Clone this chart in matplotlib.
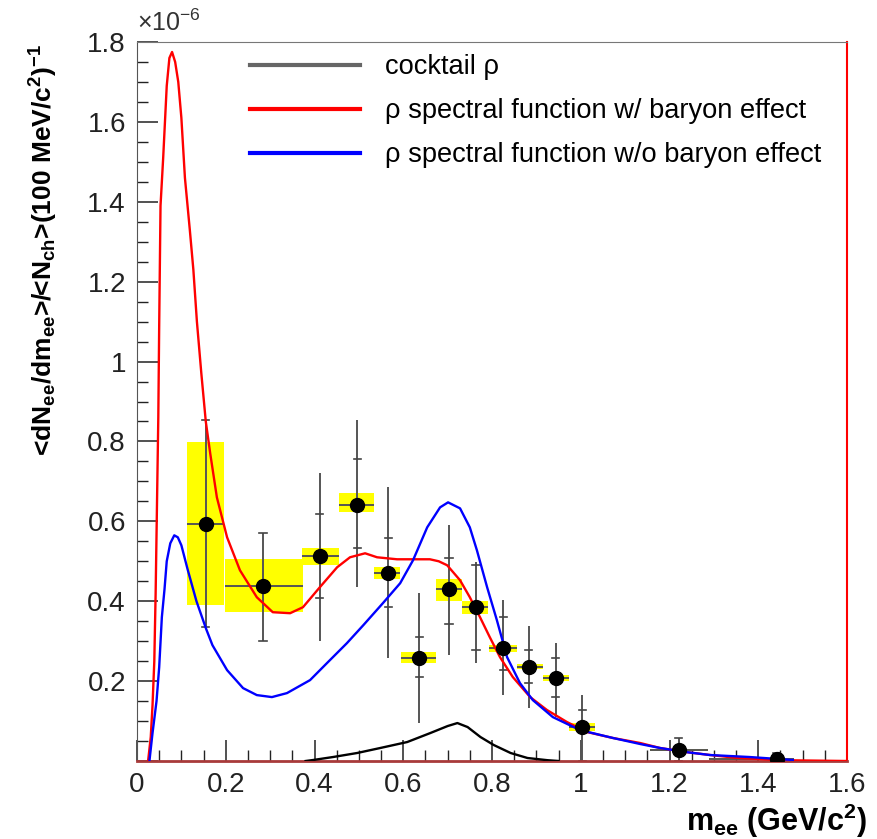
import matplotlib
matplotlib.use("Agg")
import matplotlib.pyplot as plt
from matplotlib.ticker import MultipleLocator, FuncFormatter

plt.rcParams["font.family"] = ["Liberation Sans", "DejaVu Sans"]
plt.rcParams["mathtext.default"] = "regular"

# curves (units of 1e-6)
cocktail_x = [0.38, 0.397, 0.442, 0.496, 0.548, 0.609, 0.661, 0.700, 0.722, 0.745,
              0.774, 0.804, 0.842, 0.880, 0.925, 0.95]
cocktail_y = [0.0, 0.0025, 0.01, 0.02, 0.0325, 0.0475, 0.07, 0.0875, 0.095, 0.085,
              0.06, 0.04, 0.02, 0.0075, 0.002, 0.0]

baryon_x = [0.025, 0.031, 0.035, 0.039, 0.042, 0.045, 0.048, 0.050, 0.053, 0.059,
            0.067, 0.073, 0.079, 0.086, 0.093, 0.100, 0.108, 0.119, 0.127, 0.135,
            0.145, 0.155, 0.165, 0.180, 0.203, 0.232, 0.270, 0.306, 0.345, 0.374,
            0.412, 0.451, 0.480, 0.514, 0.541, 0.586, 0.630, 0.660, 0.680, 0.699,
            0.728, 0.750, 0.773, 0.795, 0.818, 0.847, 0.886, 0.924, 0.969, 1.014,
            1.073, 1.134, 1.179, 1.24, 1.291, 1.35, 1.45, 1.60]
baryon_y = [0.0, 0.06, 0.14, 0.25, 0.42, 0.64, 0.86, 1.09, 1.39, 1.51,
            1.69, 1.76, 1.775, 1.75, 1.70, 1.61, 1.46, 1.33, 1.23, 1.10,
            0.97, 0.85, 0.77, 0.66, 0.56, 0.4775, 0.41, 0.3725, 0.37, 0.385,
            0.435, 0.485, 0.51, 0.52, 0.51, 0.505, 0.505, 0.505, 0.50, 0.49,
            0.4525, 0.41, 0.36, 0.31, 0.26, 0.21, 0.16, 0.1275, 0.0975, 0.0725,
            0.0575, 0.045, 0.0325, 0.022, 0.015, 0.008, 0.002, 0.0]

nobaryon_x = [0.028, 0.035, 0.044, 0.050, 0.056, 0.062, 0.067, 0.075, 0.084, 0.092,
              0.100, 0.114, 0.134, 0.156, 0.170, 0.203, 0.239, 0.270, 0.304, 0.338,
              0.390, 0.428, 0.473, 0.510, 0.554, 0.593, 0.622, 0.654, 0.683, 0.701,
              0.728, 0.750, 0.766, 0.789, 0.811, 0.834, 0.863, 0.892, 0.937, 0.998,
              1.073, 1.134, 1.179, 1.24, 1.291, 1.38, 1.478]
nobaryon_y = [0.0, 0.07, 0.15, 0.235, 0.36, 0.43, 0.50, 0.545, 0.565, 0.56,
              0.54, 0.48, 0.40, 0.33, 0.29, 0.2275, 0.1825, 0.165, 0.16, 0.17,
              0.2025, 0.245, 0.295, 0.34, 0.395, 0.445, 0.5025, 0.585, 0.635, 0.6475,
              0.6325, 0.585, 0.5275, 0.435, 0.3525, 0.26, 0.195, 0.1525, 0.11, 0.0775,
              0.0575, 0.0425, 0.0325, 0.022, 0.015, 0.01, 0.0025]

# data points
pt_x = [0.155, 0.284, 0.412, 0.496, 0.566, 0.636, 0.703, 0.764, 0.825, 0.883, 0.944, 1.003, 1.221, 1.442]
pt_y = [0.593, 0.4375, 0.5125, 0.64, 0.47, 0.2575, 0.43, 0.385, 0.2825, 0.235, 0.2075, 0.085, 0.0275, 0.005]
pt_xlo = [0.113, 0.198, 0.372, 0.455, 0.534, 0.595, 0.674, 0.732, 0.793, 0.856, 0.915, 0.974, 1.156, 1.29]
pt_xhi = [0.196, 0.374, 0.455, 0.534, 0.593, 0.674, 0.732, 0.791, 0.856, 0.915, 0.974, 1.032, 1.287, 1.48]
stat_lo = [0.335, 0.30, 0.30, 0.435, 0.2575, 0.095, 0.265, 0.245, 0.165, 0.1325, 0.11, 0.0, 0.0, 0.0]
stat_hi = [0.853, 0.57, 0.72, 0.853, 0.685, 0.42, 0.59, 0.4975, 0.4025, 0.3375, 0.295, 0.165, 0.0575, 0.02]
tick_lo = [0.335, 0.30, 0.4075, 0.5325, 0.385, 0.21, 0.3425, 0.2775, 0.2275, 0.195, 0.16, 0.0, 0.0, 0.0]
tick_hi = [0.853, 0.57, 0.6175, 0.755, 0.5575, 0.31, 0.5075, 0.49, 0.36, 0.2775, 0.2575, 0.1275, 0.0575, 0.02]
sys_lo = [0.39, 0.3725, 0.49, 0.6225, 0.455, 0.245, 0.40, 0.3675, 0.2725, 0.23, 0.20, 0.075, 0.024, 0.003]
sys_hi = [0.798, 0.505, 0.5325, 0.67, 0.485, 0.2725, 0.455, 0.40, 0.29, 0.2425, 0.215, 0.095, 0.031, 0.007]

fig = plt.figure(figsize=(8.78, 8.39), dpi=100)
ax = fig.add_axes([137 / 878, 1 - 761 / 839, 710 / 878, 719 / 839])

# systematic boxes
for i in range(len(pt_x)):
    ax.fill_between([pt_xlo[i], pt_xhi[i]], sys_lo[i], sys_hi[i],
                    color="#ffff00", linewidth=0, zorder=1)

# stat error bars
ax.vlines(pt_x, stat_lo, stat_hi, color="#555555", linewidth=1.4, zorder=2)
ax.hlines(pt_y, pt_xlo, pt_xhi, color="#555555", linewidth=1.4, zorder=2)
for i in range(len(pt_x)):
    ax.plot([pt_x[i] - 0.008, pt_x[i] + 0.008], [tick_lo[i], tick_lo[i]], color="#444444", lw=1.2, zorder=2)
    ax.plot([pt_x[i] - 0.008, pt_x[i] + 0.008], [tick_hi[i], tick_hi[i]], color="#444444", lw=1.2, zorder=2)

ax.plot(cocktail_x, cocktail_y, color="black", lw=1.7, zorder=3, label="cocktail ρ")
ax.plot(baryon_x, baryon_y, color="#ff0000", lw=1.7, zorder=3,
        label="ρ spectral function w/ baryon effect")
ax.plot(nobaryon_x, nobaryon_y, color="#0000ff", lw=1.7, zorder=3,
        label="ρ spectral function w/o baryon effect")

ax.plot(pt_x, pt_y, "o", color="black", markersize=10, zorder=4)

ax.set_xlim(0, 1.6)
ax.set_ylim(0, 1.8)

ax.xaxis.set_major_locator(MultipleLocator(0.2))
ax.xaxis.set_minor_locator(MultipleLocator(0.05))
ax.yaxis.set_major_locator(MultipleLocator(0.2))
ax.yaxis.set_minor_locator(MultipleLocator(0.05))
ax.xaxis.set_major_formatter(FuncFormatter(lambda v, p: f"{v:g}"))
ax.yaxis.set_major_formatter(FuncFormatter(lambda v, p: "" if abs(v) < 1e-9 else f"{v:g}"))
ax.tick_params(which="both", direction="in", top=False, right=False, colors="#222222",
               labelsize=20, labelcolor="#222222")
ax.tick_params(which="major", length=15, width=1.1)
ax.tick_params(which="minor", length=8, width=1.0)
ax.tick_params(axis="y", pad=8)
ax.tick_params(axis="x", pad=8)

ax.spines["top"].set_color("#777777")
ax.spines["left"].set_color("#555555")
ax.spines["right"].set_color("#ff0000")
ax.spines["right"].set_linewidth(1.5)
ax.spines["bottom"].set_color("#a83a3a")
ax.spines["bottom"].set_linewidth(2.0)

ax.set_xlabel("m$_{ee}$ (GeV/c$^{2}$)", fontsize=22, fontweight="bold", ha="right", va="baseline")
ax.xaxis.set_label_coords((867 - 137) / 710, (761 - 831) / 719)
ax.set_ylabel("<dN$_{ee}$/dm$_{ee}$>/<N$_{ch}$>(100 MeV/c$^{2}$)$^{-1}$", fontsize=19,
              fontweight="bold", ha="right", va="center")
ax.yaxis.set_label_coords((44 - 137) / 710, (761 - 44) / 719)
ax.text(0.0, 1.008, "×10$^{-6}$", transform=ax.transAxes, fontsize=18, color="#333333",
        ha="left", va="bottom")

leg = ax.legend(loc="upper left", bbox_to_anchor=(0.159, 0.983), frameon=False, fontsize=19.6,
                handlelength=4.05, handletextpad=0.92, labelspacing=0.66, borderpad=0, borderaxespad=0)
for line in leg.get_lines():
    line.set_linewidth(3)
leg.get_lines()[0].set_color("#666666")

fig.savefig("out.png", dpi=100)
